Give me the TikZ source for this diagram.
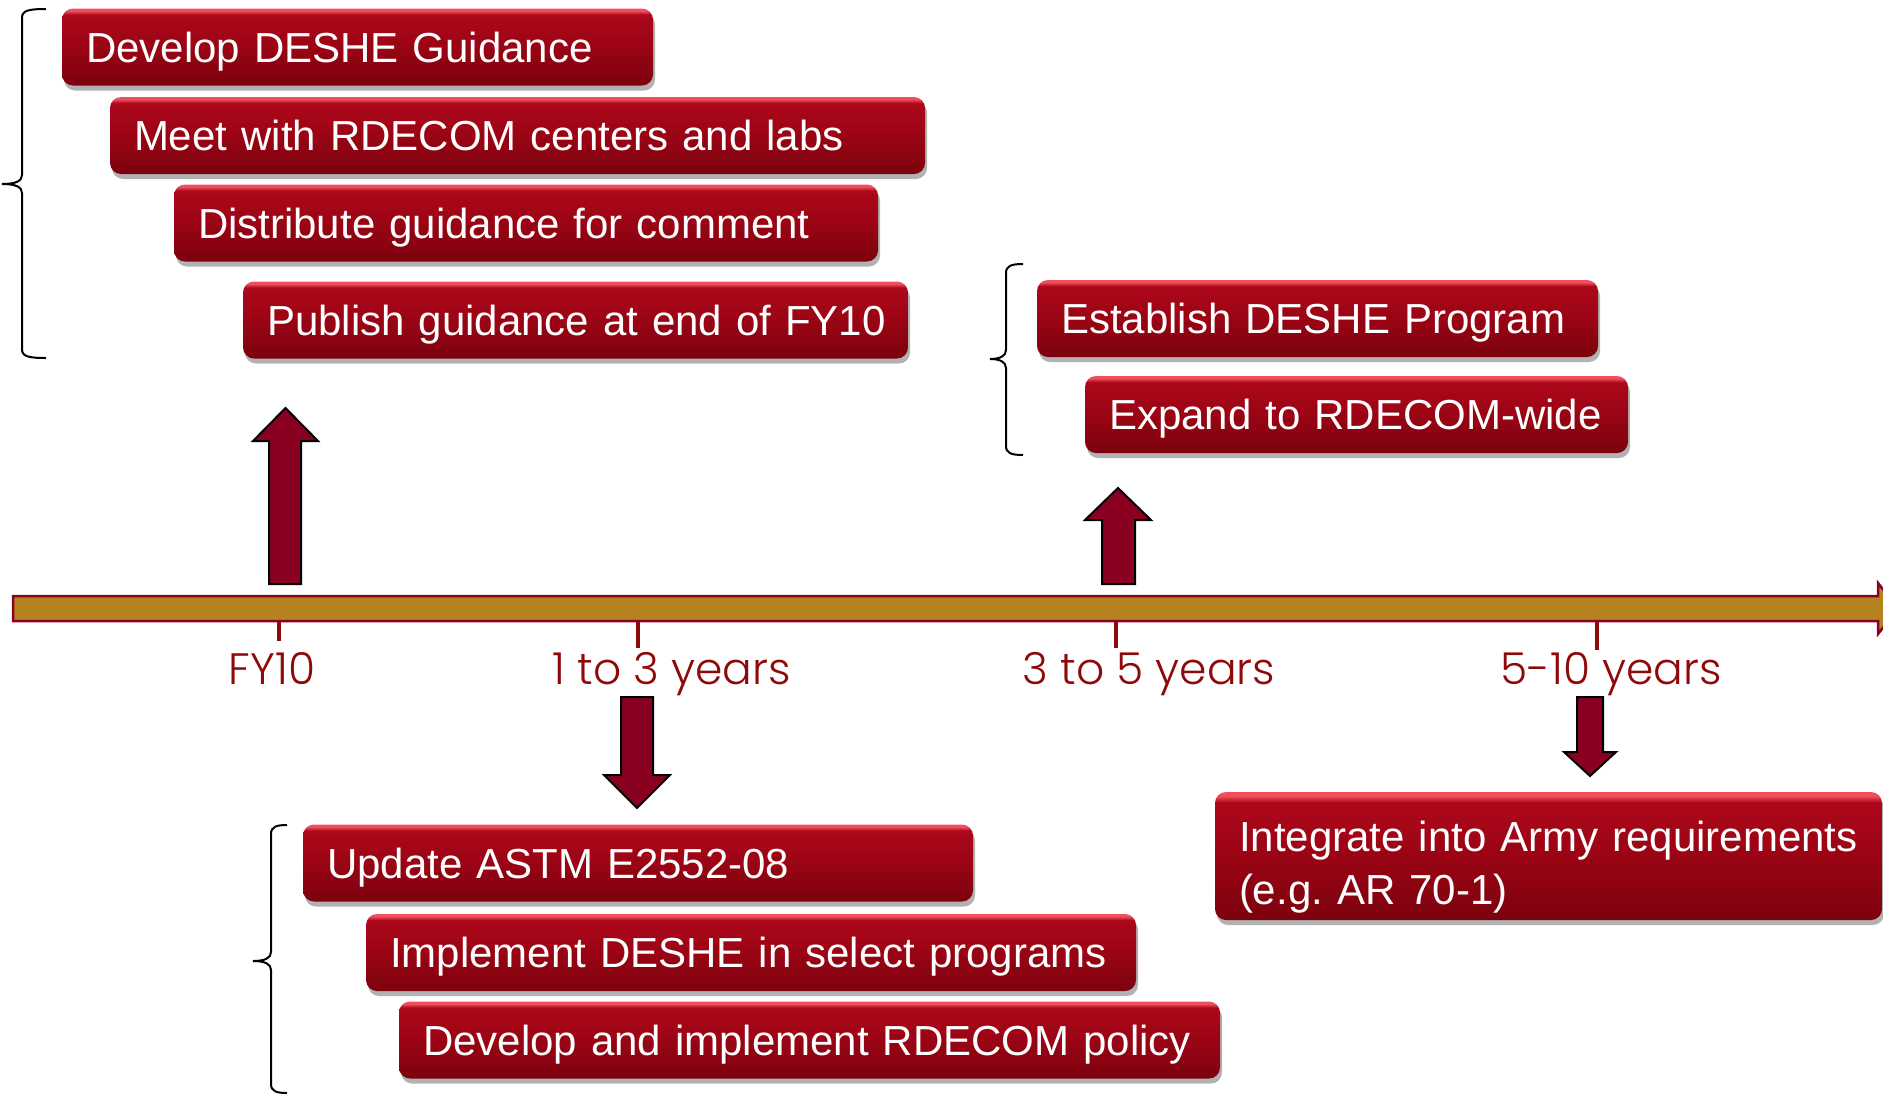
\documentclass[tikz,border=0pt]{standalone}
\usepackage{fontspec}
\setmainfont{Liberation Sans}
\newfontfamily\lblfont{Poppins}[UprightFont={* Light}]
\usetikzlibrary{shadows}
\definecolor{bxhl}{HTML}{F0505E}
\definecolor{bxtop}{HTML}{AC081A}
\definecolor{bxmid}{HTML}{9A0414}
\definecolor{bxbot}{HTML}{7C020E}
\definecolor{arrowred}{HTML}{8A0020}
\definecolor{lblred}{HTML}{8E0A0A}
\definecolor{barfill}{HTML}{B58220}
\definecolor{barline}{HTML}{8B0020}
\pgfdeclareverticalshading{glossy}{100bp}{color(0bp)=(bxbot); color(25bp)=(bxbot); color(50bp)=(bxmid); color(71bp)=(bxtop); color(73.5bp)=(bxhl); color(75bp)=(bxhl); color(100bp)=(bxhl)}
\tikzset{
  task/.style={shading=glossy, rounded corners=11pt, text=white,
    font=\fontsize{42}{53}\selectfont, align=left, inner xsep=24pt, inner ysep=0pt,
    minimum height=77pt, text height=40pt, text depth=10pt,
    drop shadow={shadow xshift=2pt, shadow yshift=-5pt, opacity=0.3, fill=black}},
  blockarrow/.style={fill=arrowred, draw=black, line width=2pt, line join=miter},
  tickmark/.style={draw=lblred, line width=4pt},
  yrlabel/.style={text=lblred, font=\lblfont\fontsize{44}{50}\selectfont, inner sep=0pt, anchor=base},
  bracepath/.style={draw=black, line width=2pt},
  timebar/.style={fill=barfill, draw=barline, line width=2.5pt, line join=miter}
}
\newcommand{\bracepathdraw}[6]{% L R T B M P
  \draw[bracepath] (#2,#3) .. controls (#1+5,#3) and (#1,#3+2) .. (#1,#3+9)
    -- (#1,#5-9) .. controls (#1,#5-3) and (#1-6,#5) .. (#6,#5)
    .. controls (#1-6,#5) and (#1,#5+3) .. (#1,#5+9)
    -- (#1,#4-9) .. controls (#1,#4-2) and (#1+5,#4) .. (#2,#4);}
\begin{document}
\begin{tikzpicture}[x=1pt,y=-1pt]
\useasboundingbox (0,0) rectangle (1883,1096);

% timeline bar
\draw[timebar] (13,596) -- (1878,596) -- (1878,583) -- (1898,608.5) -- (1878,634) -- (1878,621) -- (13,621) -- cycle;

% ticks
\draw[tickmark] (279,622) -- (279,641);
\draw[tickmark] (638,622) -- (638,648);
\draw[tickmark] (1116,622) -- (1116,648);
\draw[tickmark] (1597,622) -- (1597,650);

% year labels
\node[yrlabel] (fy) at (272,684) {FY10};
\node[yrlabel] (y13) at (672,684) {1 to 3 years};
\node[yrlabel] (y35) at (1149,684) {3 to 5 years};
\node[yrlabel] (y510) at (1611,684) {5-10 years};

% block arrows
\draw[blockarrow] (269,584) -- (269,441) -- (253,441) -- (285.5,408) -- (318,441) -- (301,441) -- (301,584) -- cycle;
\draw[blockarrow] (1102,584) -- (1102,520) -- (1085,520) -- (1118,488) -- (1151,520) -- (1135,520) -- (1135,584) -- cycle;
\draw[blockarrow] (621,697) -- (621,775) -- (604,775) -- (637,808) -- (670,775) -- (653,775) -- (653,697) -- cycle;
\draw[blockarrow] (1577,697) -- (1577,752) -- (1564,752) -- (1590,776) -- (1616,752) -- (1603,752) -- (1603,697) -- cycle;

% braces
\bracepathdraw{22}{46}{9}{358}{184}{2}
\bracepathdraw{1006}{1023}{264}{455}{359}{990}
\bracepathdraw{271}{287}{825}{1093}{961}{253}

% task boxes
\node[task, text width=543pt] (t1) at (357.5,47) {\mbox{Develop DESHE Guidance}};
\node[task, text width=767pt] (t2) at (517.5,135.5) {\mbox{Meet with RDECOM centers and labs}};
\node[task, text width=656pt] (t3) at (526,223) {\mbox{Distribute guidance for comment}};
\node[task, text width=617pt] (t4) at (575.5,320) {\mbox{Publish guidance at end of FY10}};
\node[task, text width=513pt] (t5) at (1317.5,318.5) {\mbox{Establish DESHE Program}};
\node[task, text width=495pt] (t6) at (1356.5,414.5) {\mbox{Expand to RDECOM-wide}};
\node[task, text width=622pt] (t7) at (638,863) {\mbox{Update ASTM E2552-08}};
\node[task, text width=722pt] (t8) at (751,952.5) {\mbox{Implement DESHE in select programs}};
\node[task, text width=773pt] (t9) at (809.5,1040) {\mbox{Develop and implement RDECOM policy}};
\node[task, text width=619pt, minimum height=128pt, text height=40pt, text depth=50pt] (t10) at (1548.5,856) {\mbox{Integrate into Army requirements}\\(e.g.\ AR 70-1)};
\end{tikzpicture}
\end{document}
